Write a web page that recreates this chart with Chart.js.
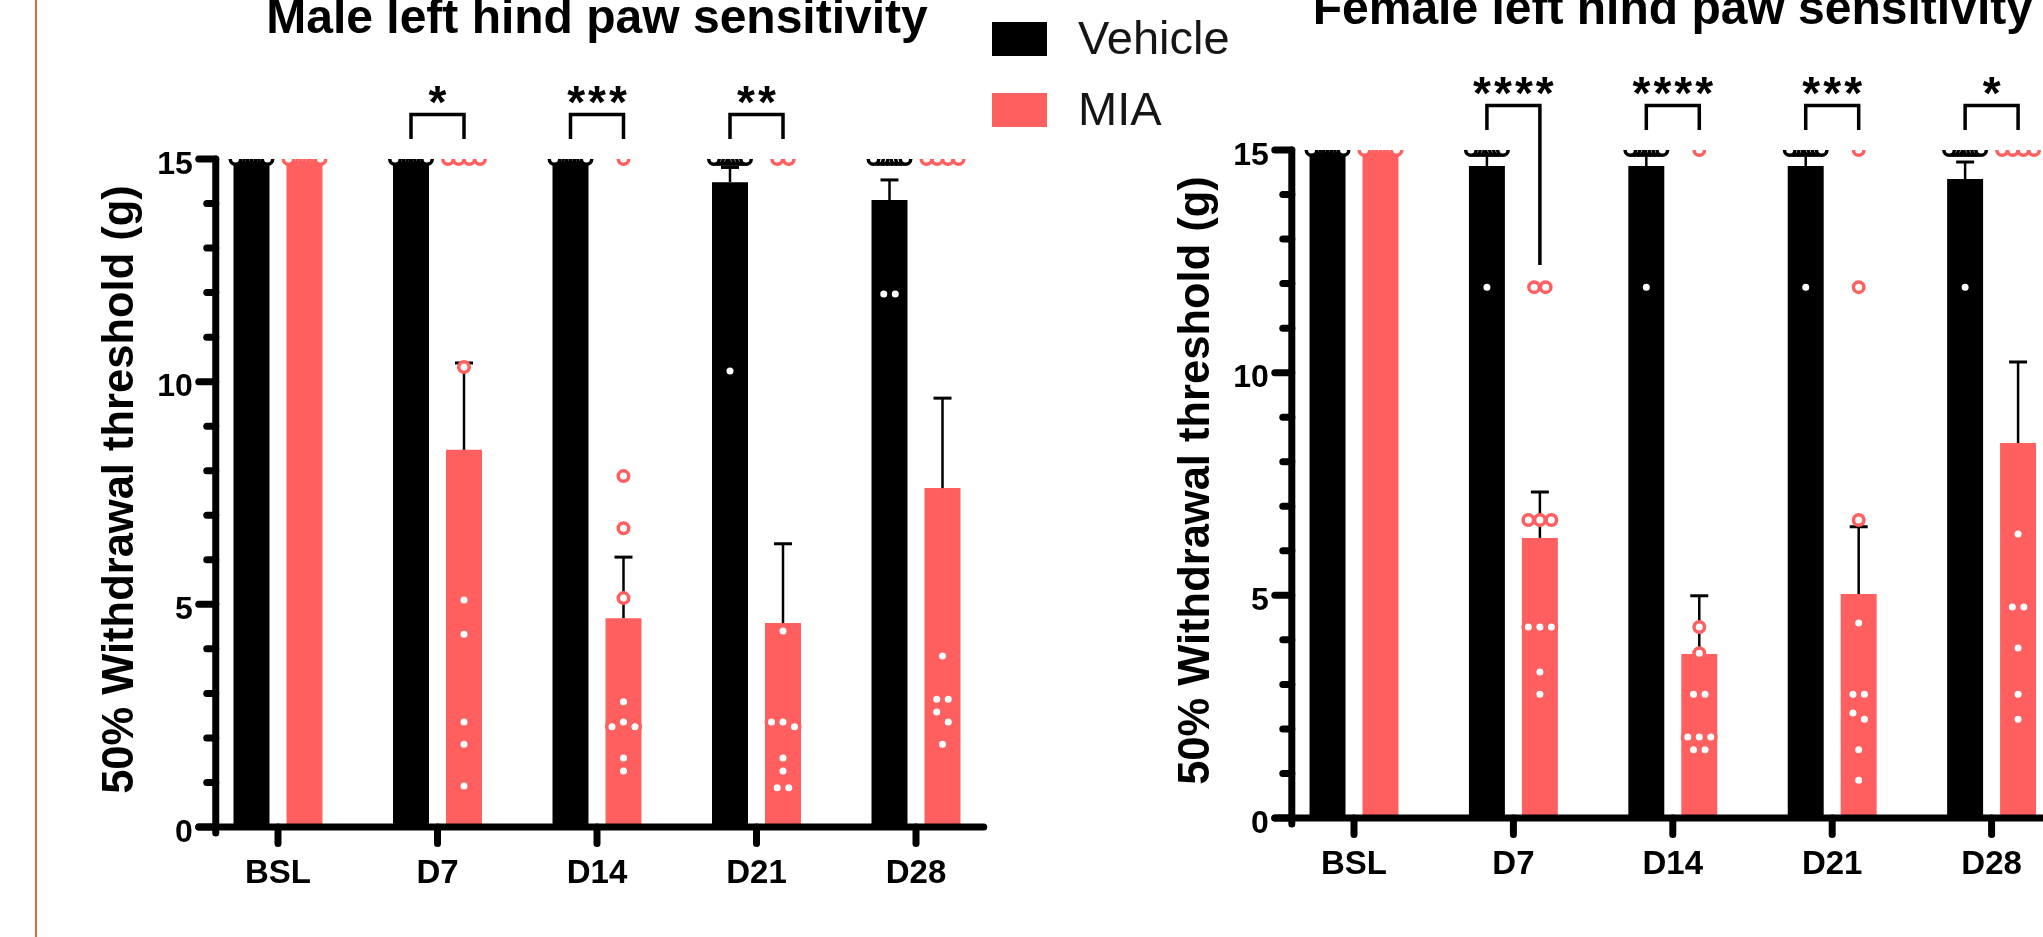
<!DOCTYPE html>
<html>
<head>
<meta charset="utf-8">
<script src="https://cdn.jsdelivr.net/npm/chart.js@4.4.1/dist/chart.umd.min.js"></script>
<style>
  html, body { margin: 0; padding: 0; background: #ffffff; overflow: hidden; width: 2043px; height: 937px; }
  #frame { position: absolute; left: 35px; top: 0; width: 2px; height: 937px; background: #DE6A42; }
  .wrap { position: absolute; top: 0; height: 937px; }
  #w1 { left: 0; width: 1250px; }
  #w2 { left: 1040px; width: 1100px; }
  canvas { display: block; position: absolute; left: 0; top: 0; }
</style>
</head>
<body>
<div id="frame"></div>
<div id="w1" class="wrap"><canvas id="c1" width="1250" height="937"></canvas><canvas id="p1" width="1250" height="937"></canvas></div>
<div id="w2" class="wrap"><canvas id="c2" width="1100" height="937"></canvas><canvas id="p2" width="1100" height="937"></canvas></div>
<script>
// ---------------- DATA ----------------
const categories = ['BSL', 'D7', 'D14', 'D21', 'D28'];
const seriesNames = ['Vehicle', 'MIA'];
const yTickLabels = [0, 5, 10, 15];

// Male
const maleTitle = 'Male left hind paw sensitivity';
const maleVehicleMean = [15, 15, 15, 14.48, 14.08];
const maleVehicleSem  = [0, 0, 0, 0.33, 0.45];
const maleMiaMean     = [15, 8.47, 4.69, 4.58, 7.61];
const maleMiaSem      = [0, 1.95, 1.37, 1.78, 2.02];
const maleVehiclePoints = [
  [15, 15, 15, 15, 15, 15, 15, 15, 15, 15],
  [15, 15, 15, 15, 15, 15, 15, 15, 15, 15],
  [15, 15, 15, 15, 15, 15, 15, 15, 15, 15],
  [15, 15, 15, 15, 15, 15, 15, 15, 15, 10.24],
  [15, 15, 15, 15, 15, 15, 15, 15, 11.97, 11.97]
];
const maleMiaPoints = [
  [15, 15, 15, 15, 15, 15, 15, 15, 15, 15],
  [15, 15, 15, 15, 10.33, 5.1, 4.33, 2.36, 1.86, 0.92],
  [15, 7.88, 6.71, 5.14, 2.81, 2.36, 2.25, 2.25, 1.55, 1.26],
  [15, 15, 4.4, 2.36, 2.36, 2.25, 1.55, 1.26, 0.88, 0.88],
  [15, 15, 15, 15, 3.84, 2.87, 2.87, 2.58, 2.36, 1.86]
];
const maleStars = ['', '*', '***', '**', ''];

// Female
const femaleTitle = 'Female left hind paw sensitivity';
const femaleVehicleMean = [15, 14.64, 14.64, 14.64, 14.35];
const femaleVehicleSem  = [0, 0.3, 0.3, 0.3, 0.38];
const femaleMiaMean     = [15, 6.29, 3.68, 5.03, 8.42];
const femaleMiaSem      = [0, 1.03, 1.31, 1.51, 1.82];
const femaleVehiclePoints = [
  [15, 15, 15, 15, 15, 15, 15, 15, 15, 15],
  [15, 15, 15, 15, 15, 15, 15, 15, 15, 11.92],
  [15, 15, 15, 15, 15, 15, 15, 15, 15, 11.92],
  [15, 15, 15, 15, 15, 15, 15, 15, 15, 11.92],
  [15, 15, 15, 15, 15, 15, 15, 15, 15, 11.92]
];
const femaleMiaPoints = [
  [15, 15, 15, 15, 15, 15, 15, 15, 15, 15],
  [11.92, 11.92, 6.69, 6.69, 6.69, 4.29, 4.29, 4.29, 3.28, 2.78],
  [15, 4.29, 3.7, 2.78, 2.78, 1.82, 1.82, 1.82, 1.53, 1.53],
  [15, 11.92, 6.69, 4.38, 2.78, 2.78, 2.36, 2.22, 1.53, 0.85],
  [15, 15, 15, 15, 6.38, 4.74, 4.74, 3.82, 2.78, 2.22]
];
const femaleStars = ['', '****', '****', '***', '*'];

// ---------------- STYLE ----------------
const COLORS = ['#000000', '#FF5F5F'];
const FONT = "'Liberation Sans', Arial, Helvetica, sans-serif";
const CAT_PCT = 0.6646;
const BAR_PCT = 0.679;
const CAT_PX = 159.5;      // pixel width of one category (from layout padding)
const PX_PER_UNIT = 44.53; // pixel per y unit (from layout padding)

// Arrange points of one group: near-equal values share a row, centred on the bar
function swarmOffsets(vals, thrPx, gapPx, maxSpreadPx) {
  const order = vals.map((v, i) => i).sort((a, b) => vals[b] - vals[a] || a - b);
  const off = new Array(vals.length).fill(0);
  let row = [];
  const flush = () => {
    const k = row.length;
    if (!k) return;
    let d = gapPx;
    if (k > 1 && (k - 1) * d > maxSpreadPx) d = maxSpreadPx / (k - 1);
    const slots = [];
    if (k % 2) {
      slots.push(0);
      for (let j = 1; slots.length < k; j++) { slots.push(-j); if (slots.length < k) slots.push(j); }
    } else {
      for (let j = 0; slots.length < k; j++) { slots.push(-(j + 0.5)); slots.push(j + 0.5); }
    }
    row.forEach((idx, n) => { off[idx] = slots[n] * d; });
    row = [];
  };
  order.forEach(i => {
    if (row.length && (vals[row[0]] - vals[i]) * PX_PER_UNIT > thrPx) flush();
    row.push(i);
  });
  flush();
  return off;
}

function pointData(groups, sign) {
  const out = [];
  groups.forEach((vals, i) => {
    const off = swarmOffsets(vals, 11.5, 11.5, 32);
    vals.forEach((v, j) => out.push({ x: i + sign * CAT_PCT / 4 + off[j] / CAT_PX, y: v }));
  });
  return out;
}

function line(ctx, x1, y1, x2, y2) {
  ctx.beginPath(); ctx.moveTo(x1, y1); ctx.lineTo(x2, y2); ctx.stroke();
}

const decorPlugin = {
  id: 'decor',
  afterDraw(chart, args, o) {
    const ctx = chart.ctx, ca = chart.chartArea;
    const y = chart.scales.y, xs = chart.scales.x;
    const ax = ca.left + 17.5;
    const y0 = y.getPixelForValue(0), yMax = y.getPixelForValue(15);
    const mv = chart.getDatasetMeta(0), mm = chart.getDatasetMeta(1);
    ctx.save();
    ctx.strokeStyle = '#000'; ctx.fillStyle = '#000';
    // error bars (mean + SEM)
    [mv, mm].forEach((meta, s) => {
      o.means[s].forEach((m, i) => {
        const sem = o.sems[s][i];
        if (!sem) return;
        const x = meta.data[i].x;
        const yb = y.getPixelForValue(m), yt = y.getPixelForValue(m + sem);
        ctx.lineCap = 'butt';
        ctx.lineWidth = 2.5;
        line(ctx, x, yb, x, yt);
        ctx.lineWidth = 3;
        line(ctx, x - 9, yt, x + 9, yt);
      });
    });
    ctx.lineCap = 'round'; ctx.lineWidth = 7;
    // axes
    line(ctx, ax, yMax, ax, y0 + 6);
    line(ctx, ax - 17, y0, ca.right - 12, y0);
    for (let v = 0; v <= 15; v++) {
      const py = y.getPixelForValue(v);
      line(ctx, ax - (v % 5 === 0 ? 17 : 9), py, ax, py);
    }
    categories.forEach((c, i) => {
      const px = xs.getPixelForValue(i);
      line(ctx, px, y0, px, y0 + 16.5);
    });
    // tick labels
    ctx.font = 'bold 32px ' + FONT;
    ctx.textAlign = 'right'; ctx.textBaseline = 'alphabetic';
    yTickLabels.forEach(v => ctx.fillText(String(v), ax - 23, y.getPixelForValue(v) + 14.5));
    ctx.font = 'bold 33px ' + FONT;
    ctx.textAlign = 'center';
    categories.forEach((c, i) => ctx.fillText(c, xs.getPixelForValue(i), y0 + 56));
    // y axis title
    ctx.save();
    ctx.translate(ax - 83, (ca.top + ca.bottom) / 2 - 3.5);
    ctx.rotate(-Math.PI / 2);
    ctx.font = 'bold 43.5px ' + FONT;
    ctx.textAlign = 'center';
    ctx.fillText('50% Withdrawal threshold (g)', 0, 0);
    ctx.restore();
    // chart title
    ctx.font = 'bold 48px ' + FONT;
    ctx.textAlign = 'center';
    ctx.fillText(o.title, (ca.left + ca.right) / 2, ca.top - 126);
    // significance brackets and stars
    ctx.lineCap = 'butt'; ctx.lineJoin = 'miter'; ctx.lineWidth = 3.5;
    o.stars.forEach((s, i) => {
      if (!s) return;
      const xv = mv.data[i].x, xm = mm.data[i].x;
      const yt = y.getPixelForValue(o.bracketTop), yl = y.getPixelForValue(o.bracketLeg);
      const yr = (o.longLeg && o.longLeg.index === i) ? y.getPixelForValue(o.longLeg.to) : yl;
      ctx.beginPath();
      ctx.moveTo(xv, yl); ctx.lineTo(xv, yt); ctx.lineTo(xm, yt); ctx.lineTo(xm, yr);
      ctx.stroke();
      ctx.font = 'bold 46px ' + FONT;
      ctx.letterSpacing = '3px';
      ctx.textAlign = 'center';
      ctx.fillText(s, (xv + xm) / 2 + 1.5, y.getPixelForValue(o.starLevel) + 26);
      ctx.letterSpacing = '0px';
    });
    // legend
    if (o.legend) {
      const L = o.legend;
      seriesNames.forEach((n, k) => {
        ctx.fillStyle = COLORS[k];
        ctx.fillRect(L.x, L.y + k * L.dy, 55, 34);
        ctx.fillStyle = '#151515';
        ctx.font = '47px ' + FONT;
        ctx.textAlign = 'left';
        ctx.fillText(n, L.x + 86, L.y + k * L.dy + 32);
      });
    }
    ctx.restore();
  }
};

const baseOptions = (padding) => ({
  responsive: false,
  animation: false,
  events: [],
  devicePixelRatio: 1,
  layout: { padding },
  plugins: { legend: { display: false }, tooltip: { enabled: false }, title: { display: false } }
});

function makeBars(id, padding, d) {
  const opts = baseOptions(padding);
  opts.scales = {
    x: { type: 'category', offset: true, display: false },
    y: { type: 'linear', min: 0, max: 15, display: false }
  };
  opts.plugins.decor = {
    title: d.title, stars: d.stars, means: d.means, sems: d.sems,
    bracketTop: 16.0, bracketLeg: 15.45, starLevel: 16.5,
    longLeg: d.longLeg, legend: d.legend
  };
  return new Chart(document.getElementById(id), {
    type: 'bar',
    data: {
      labels: categories,
      datasets: seriesNames.map((n, s) => ({
        label: n, data: d.means[s], backgroundColor: COLORS[s], borderWidth: 0,
        categoryPercentage: CAT_PCT, barPercentage: BAR_PCT
      }))
    },
    options: opts,
    plugins: [decorPlugin]
  });
}

function makePoints(id, padding, d) {
  const opts = baseOptions(padding);
  opts.scales = {
    x: { type: 'linear', min: -0.5, max: 4.5, display: false },
    y: { type: 'linear', min: 0, max: 15, display: false }
  };
  return new Chart(document.getElementById(id), {
    type: 'scatter',
    data: {
      datasets: seriesNames.map((n, s) => ({
        label: n + ' points', data: pointData(d.points[s], s === 0 ? -1 : 1),
        backgroundColor: '#ffffff', borderColor: COLORS[s],
        pointRadius: 5.25, pointHoverRadius: 5.25, borderWidth: 3.5, clip: 0
      })).reverse()
    },
    options: opts
  });
}

const maleCfg = {
  title: maleTitle, stars: maleStars,
  means: [maleVehicleMean, maleMiaMean], sems: [maleVehicleSem, maleMiaSem],
  points: [maleVehiclePoints, maleMiaPoints],
  longLeg: null,
  legend: { x: 992, y: 22, dy: 71 }
};
const femaleCfg = {
  title: femaleTitle, stars: femaleStars,
  means: [femaleVehicleMean, femaleMiaMean], sems: [femaleVehicleSem, femaleMiaSem],
  points: [femaleVehiclePoints, femaleMiaPoints],
  longLeg: { index: 1, to: 12.42 },
  legend: null
};
const pad1 = { left: 198.25, right: 254.25, top: 159, bottom: 110 };
const pad2 = { left: 234.3, right: 68.7, top: 150, bottom: 119 };

makeBars('c1', pad1, maleCfg);
makePoints('p1', pad1, maleCfg);
makeBars('c2', pad2, femaleCfg);
makePoints('p2', pad2, femaleCfg);
</script>
</body>
</html>
